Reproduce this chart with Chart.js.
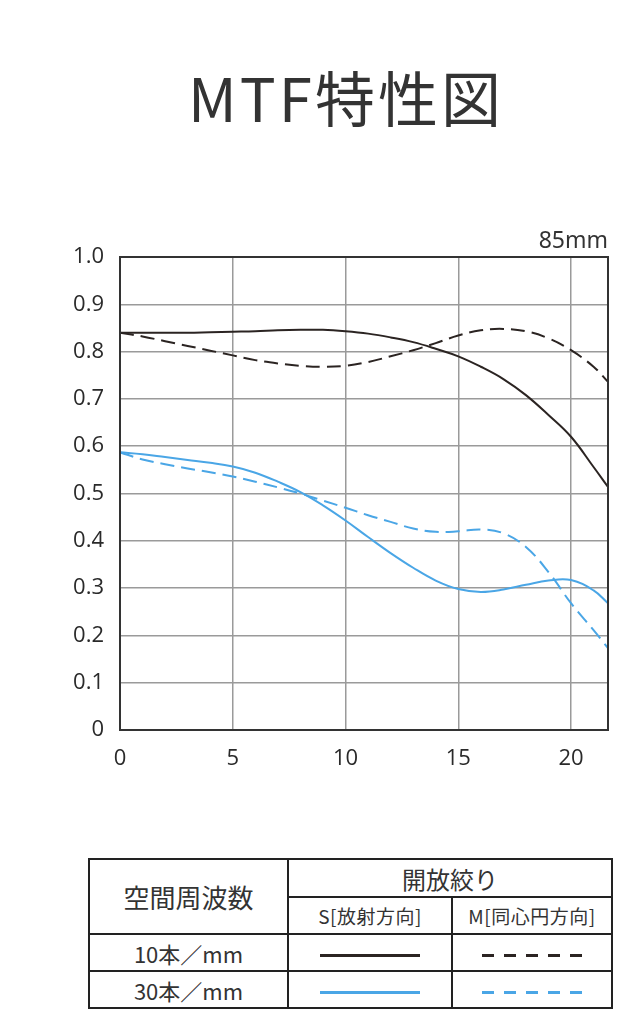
<!DOCTYPE html>
<html lang="ja">
<head>
<meta charset="utf-8">
<script src="https://cdn.jsdelivr.net/npm/chart.js@4"></script>
<style>
  html, body { margin: 0; padding: 0; background: #fff; }
  body { width: 644px; height: 1028px; position: relative; overflow: hidden;
         font-family: "Noto Sans CJK JP", "Noto Sans", sans-serif; color: #333; }
  #title { position: absolute; left: 0; width: 692px; top: 56px; text-align: center;
           font-size: 60px; font-weight: 400; line-height: 80px; letter-spacing: 3px; }
  #wrap { position: absolute; left: 0; top: 200px; width: 644px; height: 600px; }
  table { position: absolute; left: 88px; top: 858px; width: 525px; border-collapse: collapse; }
  td { border: 2px solid #222; text-align: center; padding: 0; color: #333; }
  .big { font-size: 26px; }
  .top { font-size: 24px; height: 36px; }
  .sub { font-size: 19px; height: 35px; letter-spacing: 0.5px; }
  .row { font-size: 22px; height: 35px; }
  .ln { display: inline-block; width: 100px; height: 3px; vertical-align: middle; }
</style>
</head>
<body>
<div id="title">MTF特性図</div>
<div id="wrap"><canvas id="mtf" width="644" height="600"></canvas></div>

<table>
  <tr>
    <td class="big" rowspan="2" style="width:197px">空間周波数</td>
    <td class="top" colspan="2">開放絞り</td>
  </tr>
  <tr>
    <td class="sub" style="width:162px">S[放射方向]</td>
    <td class="sub">M[同心円方向]</td>
  </tr>
  <tr>
    <td class="row">10本／mm</td>
    <td><span class="ln" style="background:#2b2422"></span></td>
    <td><span class="ln" style="background:repeating-linear-gradient(90deg,#2b2422 0 12px,transparent 12px 22px)"></span></td>
  </tr>
  <tr>
    <td class="row">30本／mm</td>
    <td><span class="ln" style="background:#4aa6e6"></span></td>
    <td><span class="ln" style="background:repeating-linear-gradient(90deg,#4aa6e6 0 12px,transparent 12px 22px)"></span></td>
  </tr>
</table>

<script>
// 空間周波数の位置 (mm)
var freq = [0, 1, 2, 3, 4, 5, 6, 7, 8, 9, 10, 11, 12, 13, 14, 15, 16, 17, 18, 19, 20, 21, 21.64];

// 10本/mm
var s10 = [0.84, 0.84, 0.84, 0.84, 0.841, 0.842, 0.843, 0.845, 0.846, 0.846, 0.843, 0.838, 0.83, 0.82, 0.806, 0.79, 0.768, 0.742, 0.708, 0.666, 0.62, 0.556, 0.514];
var m10 = [0.84, 0.832, 0.822, 0.812, 0.802, 0.792, 0.782, 0.775, 0.77, 0.768, 0.77, 0.778, 0.79, 0.803, 0.818, 0.834, 0.845, 0.848, 0.843, 0.828, 0.803, 0.768, 0.736];

// 30本/mm
var s30 = [0.587, 0.583, 0.577, 0.571, 0.565, 0.557, 0.544, 0.525, 0.503, 0.475, 0.443, 0.408, 0.374, 0.343, 0.316, 0.298, 0.292, 0.297, 0.307, 0.316, 0.317, 0.295, 0.268];
var m30 = [0.587, 0.572, 0.562, 0.553, 0.545, 0.536, 0.525, 0.513, 0.5, 0.485, 0.47, 0.454, 0.44, 0.426, 0.419, 0.42, 0.424, 0.416, 0.387, 0.334, 0.268, 0.211, 0.173];

var xTicks = [0, 5, 10, 15, 20];
var yTicks = [0, 0.1, 0.2, 0.3, 0.4, 0.5, 0.6, 0.7, 0.8, 0.9, 1.0];
var focal = '85mm';

var black = '#2b2422';
var blue = '#4aa6e6';

function pts(arr) {
    return freq.map(function(f, i) { return { x: f, y: arr[i] }; });
}

function line(label, arr, color, dash) {
    return {
        label: label,
        data: pts(arr),
        borderColor: color,
        borderWidth: 2,
        borderDash: dash,
        pointRadius: 0,
        fill: false,
        tension: 0.4
    };
}

// 枠線と焦点距離の表示
var frame = {
    id: 'frame',
    afterDatasetsDraw: function(chart) {
        var a = chart.chartArea, c = chart.ctx;
        c.save();
        c.strokeStyle = '#333';
        c.lineWidth = 2;
        c.strokeRect(a.left, a.top, a.right - a.left, a.bottom - a.top);
        c.fillStyle = '#333';
        c.font = '23px "Noto Sans", sans-serif';
        c.textAlign = 'right';
        c.textBaseline = 'alphabetic';
        c.fillText(focal, a.right, a.top - 9);
        c.restore();
    }
};

var tickFont = { family: '"Open Sans"', size: 22, weight: '500' };

var ctx = document.getElementById('mtf').getContext('2d');
var chart = new Chart(ctx, {
    type: 'line',
    data: {
        datasets: [
            line('10本/mm S', s10, black, []),
            line('10本/mm M', m10, black, [14, 7]),
            line('30本/mm S', s30, blue, []),
            line('30本/mm M', m30, blue, [14, 7])
        ]
    },
    options: {
        responsive: false,
        animation: false,
        layout: { padding: { top: 57, right: 36, left: 0, bottom: 0 } },
        plugins: { legend: { display: false }, tooltip: { enabled: false } },
        scales: {
            x: {
                type: 'linear',
                min: 0,
                max: 21.64,
                afterFit: function(s) { s.height = 70; },
                afterBuildTicks: function(s) { s.ticks = xTicks.map(function(v) { return { value: v }; }); },
                grid: { color: '#9a9a9a', lineWidth: 1.5, drawTicks: false },
                border: { display: false },
                ticks: { padding: 16, color: '#2a2a2a', font: tickFont, includeBounds: false }
            },
            y: {
                min: 0,
                max: 1,
                afterFit: function(s) { s.width = 120; },
                afterBuildTicks: function(s) { s.ticks = yTicks.map(function(v) { return { value: v }; }); },
                grid: { color: '#9a9a9a', lineWidth: 1.5, drawTicks: false },
                border: { display: false },
                ticks: {
                    padding: 16,
                    color: '#2a2a2a',
                    font: tickFont,
                    callback: function(v) { return v === 0 ? '0' : v.toFixed(1); }
                }
            }
        }
    },
    plugins: [frame]
});
</script>
</body>
</html>
